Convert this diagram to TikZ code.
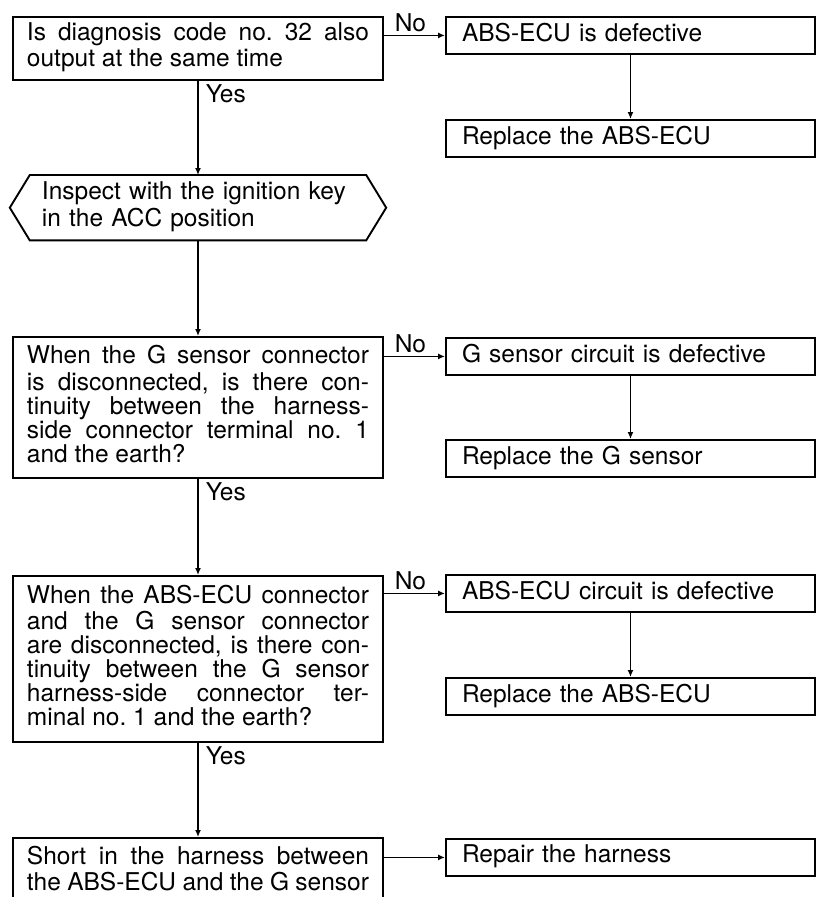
\documentclass[tikz,border=0pt]{standalone}
\usepackage{fontspec}
\setmainfont{TeX Gyre Heros}
\usetikzlibrary{arrows.meta,calc}
\newcommand{\chartfont}{\fontsize{24.5bp}{24bp}\selectfont\frenchspacing\pretolerance=10000\hbadness=10000}
\tikzset{
  ar/.style={-{Latex[length=7bp,width=6bp]},line width=1.6bp},
  qbox/.style={draw,line width=1.9bp,anchor=north,text width=342bp,inner xsep=14bp,inner ysep=0pt,align=justify,font=\chartfont,execute at begin node=\strut,execute at end node=\strut},
  rbox/.style={draw,line width=1.9bp,anchor=north,text width=337bp,inner xsep=16bp,inner ysep=0pt,minimum height=37bp,align=left,font=\chartfont,execute at begin node=\strut,execute at end node=\strut},
  yeslbl/.style={anchor=north west,inner sep=3bp,xshift=4bp,font=\chartfont},
  nolbl/.style={anchor=south west,inner sep=3bp,xshift=7bp,font=\chartfont}
}
\begin{document}
\begin{tikzpicture}[x=1bp,y=-1bp]
\useasboundingbox (0,0) rectangle (821,897);
\node[qbox,minimum height=63bp] (q1) at (198,16) {Is diagnosis code no. 32 also\linebreak output at the same time};
\node[anchor=north,text width=312bp,inner xsep=12bp,inner ysep=0pt,minimum height=65bp,align=left,font=\chartfont,execute at begin node=\strut,execute at end node=\strut] (insp) at (198,175) {Inspect with the ignition key\\in the ACC position};
\draw[line width=1.9bp] (insp.north west) -- (insp.north east) -- ([xshift=20bp]insp.east) -- (insp.south east) -- (insp.south west) -- ([xshift=-20bp]insp.west) -- cycle;
\node[qbox,minimum height=141bp] (q2) at (198,336) {When the G sensor connector\linebreak is disconnected, is there con-\linebreak tinuity between the harness-\linebreak side connector terminal no. 1\linebreak and the earth?};
\node[qbox,minimum height=166bp] (q3) at (198,575) {When the ABS-ECU connector\linebreak and the G sensor connector\linebreak are disconnected, is there con-\linebreak tinuity between the G sensor\linebreak harness-side connector ter-\linebreak minal no. 1 and the earth?};
\node[qbox,minimum height=68bp] (q4) at (198,837) {Short in the harness between\linebreak the ABS-ECU and the G sensor};

\node[rbox] (r1) at (630.5,16) {ABS-ECU is defective};
\node[rbox] (r2) at (630.5,119) {Replace the ABS-ECU};
\node[rbox] (r3) at (630.5,337) {G sensor circuit is defective};
\node[rbox] (r4) at (630.5,439) {Replace the G sensor};
\node[rbox] (r5) at (630.5,574) {ABS-ECU circuit is defective};
\node[rbox] (r6) at (630.5,677) {Replace the ABS-ECU};
\node[rbox] (r7) at (630.5,838) {Repair the harness};

\draw[ar] (q1.south) node[yeslbl]{Yes} -- (q1.south |- insp.north);
\draw[ar] (insp.south) -- (insp.south |- q2.north);
\draw[ar] (q2.south) node[yeslbl]{Yes} -- (q3.north);
\draw[ar] (q3.south) node[yeslbl]{Yes} -- (q4.north);
\draw[ar] (r1.west -| q1.east) node[nolbl]{No} -- (r1.west);
\draw[ar] (r3.west -| q2.east) node[nolbl]{No} -- (r3.west);
\draw[ar] (r5.west -| q3.east) node[nolbl]{No} -- (r5.west);
\draw[ar] (r7.west -| q4.east) -- (r7.west);
\draw[ar] (r1) -- (r2);
\draw[ar] (r3) -- (r4);
\draw[ar] (r5) -- (r6);
\end{tikzpicture}
\end{document}
